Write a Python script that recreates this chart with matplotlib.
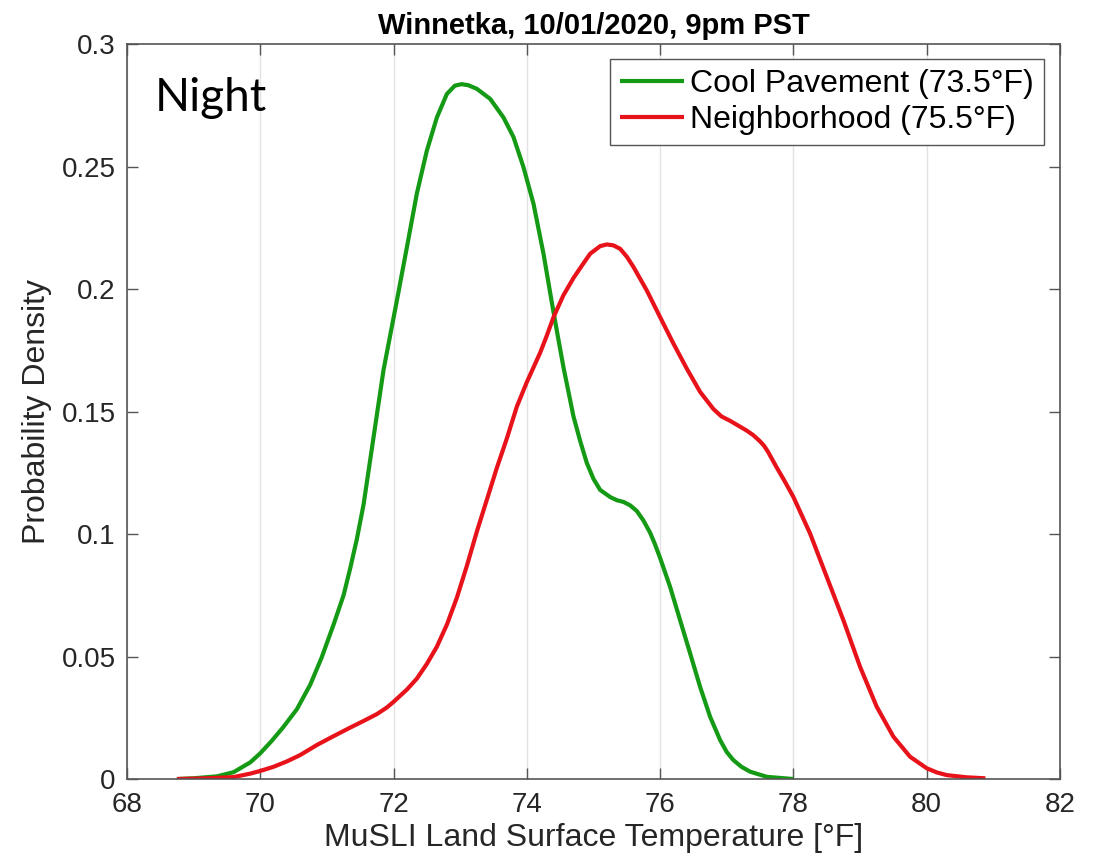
import matplotlib
matplotlib.use("Agg")
import matplotlib.pyplot as plt

# ---- data ----
cool_x = [68.75, 69.0, 69.35, 69.6, 69.85, 70.0, 70.17, 70.34, 70.55, 70.75, 70.92, 71.1,
          71.25, 71.35, 71.45, 71.55, 71.7, 71.85, 72.05, 72.2, 72.35, 72.5, 72.65, 72.8,
          72.92, 73.02, 73.12, 73.25, 73.45, 73.65, 73.8, 73.95, 74.1, 74.25, 74.37, 74.45,
          74.55, 74.7, 74.8, 74.9, 75.0, 75.1, 75.25, 75.35, 75.45, 75.55, 75.65, 75.75,
          75.85, 75.92, 76.0, 76.15, 76.3, 76.45, 76.6, 76.75, 76.9, 77.0, 77.1, 77.22, 77.35,
          77.6, 78.0]
cool_y = [0.0, 0.0003, 0.0011, 0.0028, 0.0068, 0.0105, 0.0155, 0.021, 0.0285, 0.0385, 0.0495,
          0.063, 0.075, 0.086, 0.098, 0.112, 0.1395, 0.167, 0.1953, 0.217, 0.239, 0.2565,
          0.270, 0.2796, 0.2830, 0.2836, 0.2832, 0.2817, 0.2776, 0.270, 0.262, 0.2497,
          0.2348, 0.2144, 0.1953, 0.183, 0.168, 0.148, 0.138, 0.129, 0.1225, 0.118, 0.1151,
          0.1138, 0.1131, 0.1117, 0.1094, 0.1055, 0.1005, 0.096, 0.0902, 0.0784, 0.0648,
          0.0513, 0.0376, 0.0254, 0.0159, 0.011, 0.0077, 0.005, 0.003, 0.0009, 0.0]

hood_x = [68.75, 69.2, 69.6, 69.85, 70.0, 70.2, 70.4, 70.6, 70.85, 71.1, 71.35, 71.55, 71.75,
          71.9, 72.0, 72.1, 72.2, 72.35, 72.5, 72.65, 72.8, 72.95, 73.1, 73.25, 73.4, 73.55,
          73.7, 73.85, 74.0, 74.1, 74.2, 74.3, 74.4, 74.55, 74.7, 74.85, 74.95, 75.1, 75.2,
          75.3, 75.4, 75.5, 75.6, 75.8, 76.0, 76.2, 76.4, 76.6, 76.8, 76.92, 77.05, 77.2,
          77.3, 77.4, 77.5, 77.56, 77.62, 77.74, 77.87, 78.0, 78.25, 78.5, 78.75, 79.0, 79.25,
          79.5, 79.75, 80.0, 80.15, 80.3, 80.6, 80.88]
hood_y = [0.0, 0.0003, 0.0008, 0.0022, 0.0033, 0.005, 0.0072, 0.0098, 0.0139, 0.0175, 0.021,
          0.0237, 0.0265, 0.0292, 0.0315, 0.034, 0.0365, 0.041, 0.047, 0.054, 0.063, 0.074,
          0.087, 0.101, 0.114, 0.127, 0.139, 0.152, 0.162, 0.168, 0.174, 0.181, 0.1885, 0.1975,
          0.2045, 0.2105, 0.2144, 0.2175, 0.2182, 0.2178, 0.2164, 0.2132, 0.209, 0.1994,
          0.1885, 0.1777, 0.1675, 0.158, 0.151, 0.148, 0.1462, 0.1438, 0.1422, 0.1403,
          0.1378, 0.1360, 0.1335, 0.1276, 0.1215, 0.1151, 0.1002, 0.0825, 0.0648, 0.0458,
          0.0295, 0.0173, 0.0091, 0.0044, 0.0027, 0.0016, 0.0007, 0.0003]

series_labels = ["Cool Pavement (73.5\u00b0F)", "Neighborhood (75.5\u00b0F)"]
x_ticks = [68, 70, 72, 74, 76, 78, 80, 82]
y_ticks = [0, 0.05, 0.1, 0.15, 0.2, 0.25, 0.3]
y_tick_labels = ["0", "0.05", "0.1", "0.15", "0.2", "0.25", "0.3"]
title = "Winnetka, 10/01/2020, 9pm PST"
x_label = "MuSLI Land Surface Temperature [\u00b0F]"
y_label = "Probability Density"
note = "Night"

plt.rcParams['font.family'] = ['Liberation Sans', 'DejaVu Sans']

fig = plt.figure(figsize=(11.02, 8.68), dpi=100)
ax = fig.add_axes([0.1152, 0.1025, 0.8467, 0.8468])

green = '#149a14'
red = '#e8121a'
ax.plot(cool_x, cool_y, color=green, lw=3.0, label=series_labels[0], solid_capstyle='butt',
        solid_joinstyle='round')
ax.plot(hood_x, hood_y, color=red, lw=3.0, label=series_labels[1], solid_capstyle='butt',
        solid_joinstyle='round')

ax.set_xlim(68, 82)
ax.set_ylim(0, 0.3)
ax.set_xticks(x_ticks)
ax.set_yticks(y_ticks)
ax.set_yticklabels(y_tick_labels)
ax.grid(axis='x', color='#e3e3e3', lw=1.0)
ax.set_axisbelow(True)

axis_col = '#555555'
for s in ax.spines.values():
    s.set_color(axis_col)
    s.set_linewidth(1.2)
ax.tick_params(direction='in', length=8, width=1.0, color=axis_col,
               top=True, right=True, labelsize=20, labelcolor='#262626')
ax.tick_params(axis='x', pad=9)
ax.tick_params(axis='y', pad=8)

ax.set_title(title, fontsize=21, fontweight='bold', color='black', pad=7)
ax.set_xlabel(x_label, fontsize=23, color='#262626', labelpad=4)
ax.set_ylabel(y_label, fontsize=23, color='#262626', labelpad=7)

ax.text(0.03, 0.955, note, transform=ax.transAxes, fontsize=33, family=['Lato', 'DejaVu Sans'],
        ha='left', va='top', color='black')

leg = ax.legend(loc='upper right', bbox_to_anchor=(0.9825, 0.979), fontsize=23, fancybox=False,
                framealpha=1.0, edgecolor='#555555', handlelength=2.0, handletextpad=0.2,
                borderpad=0.3, labelspacing=0.2, borderaxespad=0.0)
leg.get_frame().set_linewidth(1.0)
for t in leg.get_texts():
    t.set_color('black')

fig.savefig('out.png', dpi=100)
